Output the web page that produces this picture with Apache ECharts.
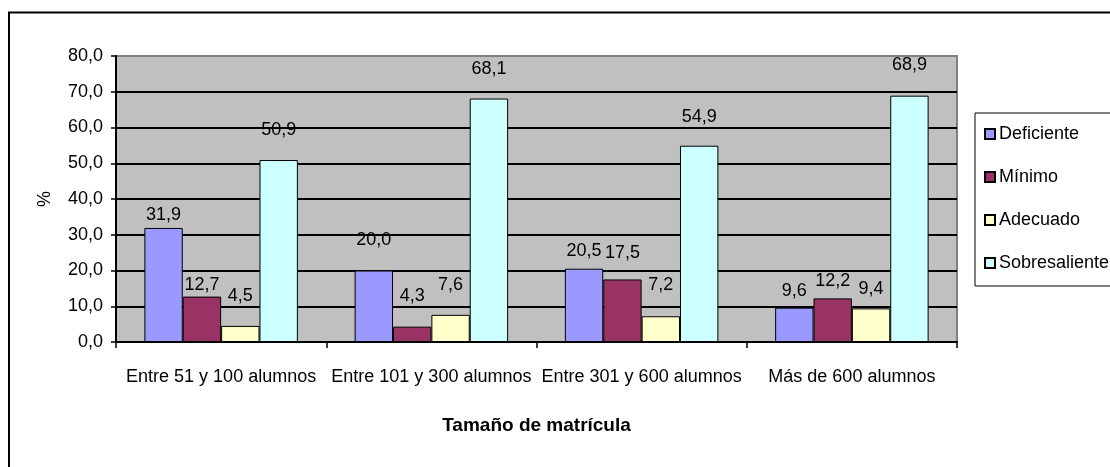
<!DOCTYPE html>
<html>
<head>
<meta charset="utf-8">
<script src="https://cdn.jsdelivr.net/npm/echarts@6/dist/echarts.min.js"></script>
<style>
html, body { margin: 0; padding: 0; background: #fff; }
#container { width: 1110px; height: 467px; }
</style>
</head>
<body>
<div id="container"></div>
<script>
// datos del grafico
var categorias = ['Entre 51 y 100 alumnos', 'Entre 101 y 300 alumnos', 'Entre 301 y 600 alumnos', 'Más de 600 alumnos'];
var niveles = ['Deficiente', 'Mínimo', 'Adecuado', 'Sobresaliente'];
var deficiente = [31.9, 20.0, 20.5, 9.6];
var minimo = [12.7, 4.3, 17.5, 12.2];
var adecuado = [4.5, 7.6, 7.2, 9.4];
var sobresaliente = [50.9, 68.1, 54.9, 68.9];
var colores = ['#9999FF', '#993366', '#FFFFCC', '#CCFFFF'];
// separacion de las etiquetas respecto a la barra (como en el original)
var distEtiqueta = [
    [4, 21, 9, 8],
    [3, 22, 17, 8],
    [21, 21, 22, 10],
    [21, 21, 20, 22]
];

var fuente = "'Liberation Sans', Arial, sans-serif";

function coma(v) {
    return v.toFixed(1).replace('.', ',');
}

var valores = [deficiente, minimo, adecuado, sobresaliente];
var series = niveles.map(function (nombre, i) {
    return {
        name: nombre,
        type: 'bar',
        barGap: 0,
        barCategoryGap: '27%',
        itemStyle: { color: colores[i], borderColor: '#000', borderWidth: 1 },
        label: {
            show: true,
            position: 'top',
            color: '#000',
            fontFamily: fuente,
            fontSize: 18,
            formatter: function (p) { return coma(p.value); }
        },
        data: valores[i].map(function (v, j) {
            return { value: v, label: { distance: distEtiqueta[i][j] } };
        })
    };
});

var gridLines = [];
for (var k = 0; k < 8; k++) gridLines.push('#000');
gridLines.push('#808080');

var myChart = echarts.init(document.getElementById('container'));
var option = {
    animation: false,
    textStyle: { fontFamily: fuente },
    graphic: [{
        type: 'rect',
        shape: { x: 9, y: 12.5, width: 1300, height: 1000 },
        style: { fill: 'none', stroke: '#000', lineWidth: 2 },
        silent: true
    }],
    grid: {
        left: 116, right: 153, top: 56, bottom: 125,
        show: true,
        backgroundColor: '#C0C0C0',
        borderColor: '#808080',
        borderWidth: 2
    },
    legend: {
        orient: 'vertical',
        left: 975,
        top: 113,
        padding: [12, 30, 14, 9],
        itemWidth: 10,
        itemHeight: 10,
        itemGap: 25,
        icon: 'rect',
        borderColor: '#000',
        borderWidth: 1,
        textStyle: { fontFamily: fuente, fontSize: 18, color: '#000', padding: [0, 0, 0, -1] },
        data: niveles
    },
    xAxis: {
        type: 'category',
        data: categorias,
        name: 'Tamaño de matrícula',
        nameLocation: 'middle',
        nameGap: 74,
        nameTextStyle: { fontFamily: fuente, fontSize: 19, fontWeight: 'bold', color: '#000' },
        axisLine: { lineStyle: { color: '#000', width: 2 } },
        axisTick: { show: true, length: 6, lineStyle: { color: '#000', width: 1.5 } },
        axisLabel: { color: '#000', fontSize: 18, margin: 26, interval: 0 },
        splitLine: { show: false }
    },
    yAxis: {
        type: 'value',
        min: 0,
        max: 80,
        interval: 10,
        name: '%',
        nameLocation: 'middle',
        nameGap: 62,
        nameTextStyle: { fontFamily: fuente, fontSize: 18, color: '#000' },
        axisLine: { show: true, lineStyle: { color: '#000', width: 2 } },
        axisTick: { show: true, length: 5, lineStyle: { color: '#000', width: 1.5 } },
        axisLabel: { color: '#000', fontSize: 18, margin: 13, formatter: coma },
        splitLine: { show: true, lineStyle: { color: gridLines, width: 2 } }
    },
    series: series
};
myChart.setOption(option);
</script>
</body>
</html>
